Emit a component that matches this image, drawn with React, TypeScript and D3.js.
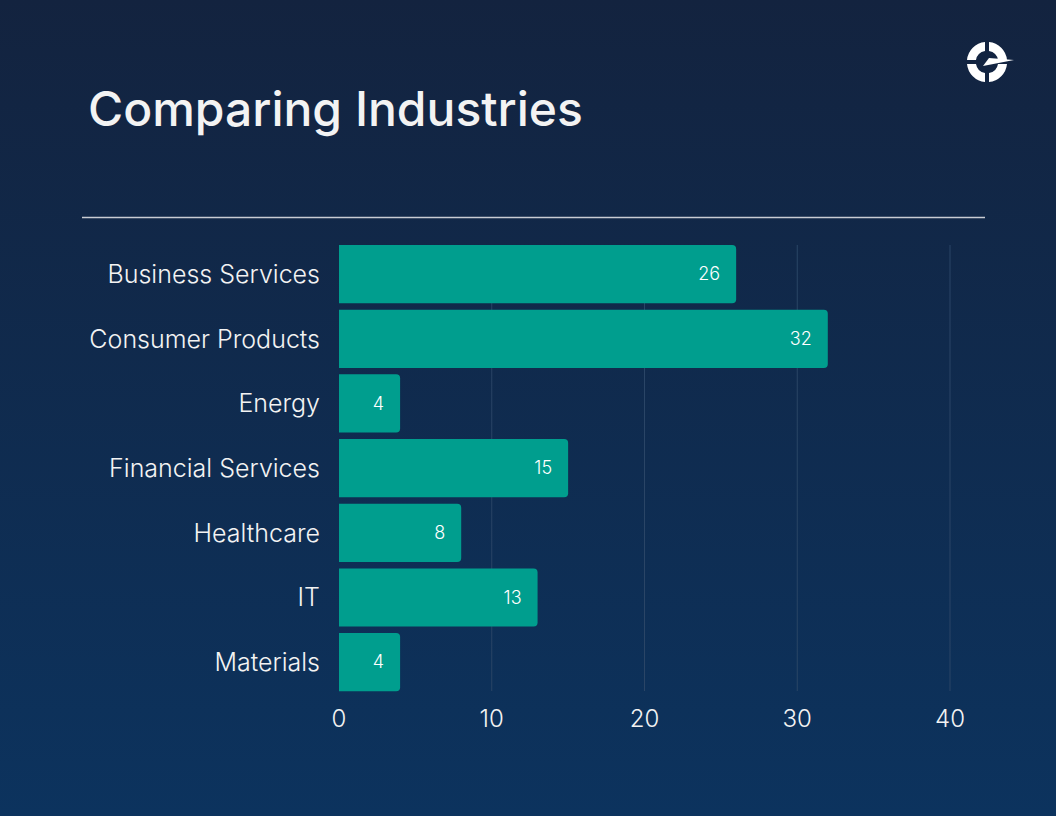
import React from "react";
import * as d3 from "d3";

const categories = ["Business Services", "Consumer Products", "Energy", "Financial Services", "Healthcare", "IT", "Materials"];
const values = [26, 32, 4, 15, 8, 13, 4];
const ticks = [0, 10, 20, 30, 40];
const title = "Comparing Industries";

const W = 1056;
const H = 816;

export default function App() {
  const x = d3.scaleLinear().domain([0, 40]).range([339, 950]);
  const y = d3.scaleBand<string>().domain(categories).range([245, 691.3]).paddingInner(0.1).paddingOuter(0);
  const r = 4;
  const barPath = (v: number, c: string) => {
    const x0 = x(0), x1 = x(v), y0 = y(c)!, h = y.bandwidth();
    return `M${x0},${y0}H${x1 - r}A${r},${r} 0 0 1 ${x1},${y0 + r}V${y0 + h - r}A${r},${r} 0 0 1 ${x1 - r},${y0 + h}H${x0}Z`;
  };
  const font = "Inter, 'Open Sans', sans-serif";
  return (
    <svg width={W} height={H} style={{ position: "absolute", left: 0, top: 0, display: "block" }}>
      <defs>
        <linearGradient id="bg" x1="0" y1="0" x2="0" y2="1">
          <stop offset="0" stopColor="#13233f" />
          <stop offset="1" stopColor="#0c335e" />
        </linearGradient>
      </defs>
      <rect width={W} height={H} fill="url(#bg)" />
      <text x={88} y={126} fill="#f3f3f3" fontFamily={font} fontWeight={500} fontSize={48}>{title}</text>
      <line x1={82} x2={985} y1={217.5} y2={217.5} stroke="#c9ccd3" strokeWidth={1.3} />
      {/* logo */}
      <g transform="translate(987,62)" fill="#ffffff">
        <path d="M-2,-20 A20,20 0 0 0 -20,-2 H-11 A11,11 0 0 1 -2,-11 Z" />
        <path d="M2,-20 A20,20 0 0 1 20,-2 H11 A11,11 0 0 0 2,-11 Z" />
        <path d="M-20,2 A20,20 0 0 0 -2,20 V11 A11,11 0 0 1 -11,2 Z" />
        <path d="M2,20 A20,20 0 0 0 20,2 H11 A11,11 0 0 1 2,11 Z" />
        <path d="M-4,4 L2,-4 L27,-2 Z" />
      </g>
      {ticks.filter(t => t > 0).map(t => (
        <line key={t} x1={x(t)} x2={x(t)} y1={245} y2={691} stroke="#2a4566" strokeWidth={1} />
      ))}
      {categories.map((c, i) => (
        <g key={c}>
          <path d={barPath(values[i], c)} fill="#009e8e" />
          <text x={x(values[i]) - 16} y={y(c)! + y.bandwidth() / 2} dy="0.35em" textAnchor="end" fill="#ffffff" fontFamily={font} fontWeight={300} fontSize={18}>{values[i]}</text>
          <text x={320} y={y(c)! + y.bandwidth() / 2} dy="0.35em" textAnchor="end" fill="#f3f3f3" fontFamily={font} fontWeight={300} fontSize={25}>{c}</text>
        </g>
      ))}
      {ticks.map(t => (
        <text key={t} x={x(t)} y={719} dy="0.35em" textAnchor="middle" fill="#f3f3f3" fontFamily={font} fontWeight={300} fontSize={24}>{t}</text>
      ))}
    </svg>
  );
}
